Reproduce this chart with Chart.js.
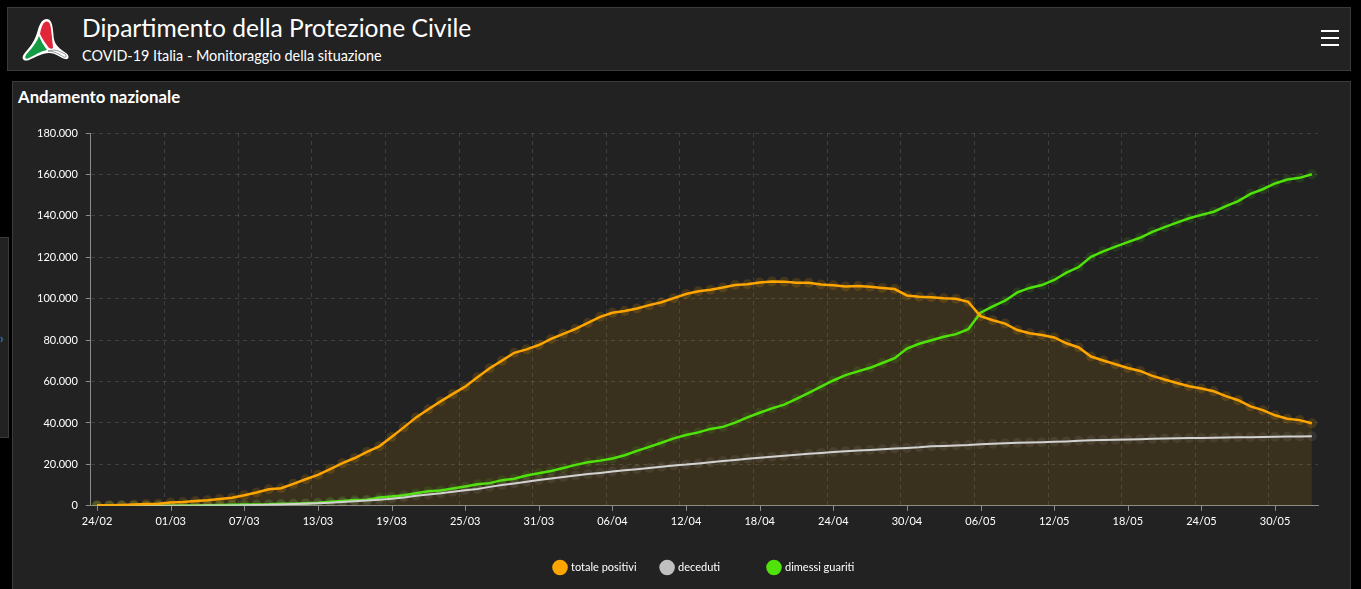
<!DOCTYPE html>
<html lang="it">
<head>
<meta charset="utf-8">
<title>Andamento nazionale</title>
<script src="https://cdn.jsdelivr.net/npm/chart.js@4.4.1/dist/chart.umd.min.js"></script>
<style>
  html, body { margin: 0; padding: 0; background: #000; width: 1361px; height: 589px; overflow: hidden; font-family: "Lato", "Noto Sans", sans-serif; color: #fff; }
  .header { position: absolute; left: 7px; top: 7px; width: 1342px; height: 62px; background: #222; border: 1px solid #3b3b3b; }
  .logo { position: absolute; left: 12px; top: 9px; }
  .title { position: absolute; left: 74px; top: 5px; font-size: 24.6px; white-space: nowrap; }
  .subtitle { position: absolute; left: 74px; top: 39px; font-size: 14.4px; white-space: nowrap; }
  .menu { position: absolute; left: 1313px; top: 22px; width: 18px; }
  .menu div { height: 2px; background: #fff; margin-bottom: 5px; }
  .panel { position: absolute; left: 12px; top: 81px; width: 1337px; height: 520px; background: #222; border: 1px solid #3b3b3b; }
  .panel h2 { position: absolute; left: 5px; top: 4px; margin: 0; font-size: 16.8px; font-weight: 700; white-space: nowrap; }
  .sidetab { position: absolute; left: -1px; top: 237px; width: 8px; height: 199px; background: #222; border: 1px solid #3b3b3b; }
  .sidetab span { position: absolute; left: 0px; top: 92px; color: #2e8ee6; font-size: 13px; }
  .chartbox { position: absolute; left: 13px; top: 110px; width: 1336px; height: 479px; }
</style>
</head>
<body>
<div class="header">
  <svg class="logo" width="50" height="46" viewBox="0 0 50 46">
    <path d="M27 2 C21 2 19 9 17 16 C14 26 8 32 4 37 C1 41 3 45 9 43 C16 40 22 36 29 36 C36 36 41 41 45 42 C49 43 50 39 46 36 C40 32 35 28 34 22 C33 14 33 2 27 2 Z" fill="#fff"/>
    <path d="M27 4.5 C23 4.5 21 11 20 17 C22 21 25 26 29 31 C31 32 32 32 33 31 C33 27 32 24 32 20 C31 13 31 4.5 27 4.5 Z" fill="#e2263a"/>
    <path d="M19 19 C16 27 10 33 6 38 C4 41 6 43 9 41 C15 38 21 34 27 33 C24 29 21 24 19 19 Z" fill="#169b45"/>
    <path d="M28 34 C35 34 40 38 44 40 C46 41 47 39 45 37 C41 35 37 33 34 33 Z" fill="#fff" stroke="#555" stroke-width="0.6"/>
  </svg>
  <div class="title">Dipartimento della Protezione Civile</div>
  <div class="subtitle">COVID-19 Italia - Monitoraggio della situazione</div>
  <div class="menu"><div></div><div></div><div></div></div>
</div>
<div class="sidetab"><span>&#x203A;</span></div>
<div class="panel"><h2>Andamento nazionale</h2></div>
<div class="chartbox"><canvas id="chart"></canvas></div>

<script>
// giorni (24/02 - 02/06)
const labels = [
    '24/02','25/02','26/02','27/02','28/02','29/02',
    '01/03','02/03','03/03','04/03','05/03','06/03','07/03','08/03','09/03','10/03',
    '11/03','12/03','13/03','14/03','15/03','16/03','17/03','18/03','19/03','20/03',
    '21/03','22/03','23/03','24/03','25/03','26/03','27/03','28/03','29/03','30/03','31/03',
    '01/04','02/04','03/04','04/04','05/04','06/04','07/04','08/04','09/04','10/04',
    '11/04','12/04','13/04','14/04','15/04','16/04','17/04','18/04','19/04','20/04',
    '21/04','22/04','23/04','24/04','25/04','26/04','27/04','28/04','29/04','30/04',
    '01/05','02/05','03/05','04/05','05/05','06/05','07/05','08/05','09/05','10/05',
    '11/05','12/05','13/05','14/05','15/05','16/05','17/05','18/05','19/05','20/05',
    '21/05','22/05','23/05','24/05','25/05','26/05','27/05','28/05','29/05','30/05','31/05',
    '01/06','02/06'
];

const xTickLabels = ['24/02','01/03','07/03','13/03','19/03','25/03','31/03','06/04','12/04',
    '18/04','24/04','30/04','06/05','12/05','18/05','24/05','30/05'];

const totalePositivi = [
    221,311,385,588,821,1049,
    1577,1835,2263,2706,3296,3916,5061,6387,7985,8514,
    10590,12839,14955,17750,20603,23073,26062,28710,33190,37860,
    42681,46638,50418,54030,57521,62013,66414,70065,73880,75528,77635,
    80572,83049,85388,88274,91246,93187,94067,95262,96877,98273,
    100269,102253,103616,104291,105418,106607,106962,107771,108257,108237,
    107709,107699,106848,106527,105847,106103,105813,105205,104657,101551,
    100943,100704,100179,99980,98467,91528,89624,87961,84842,83324,
    82488,81266,78457,76440,72070,70187,68351,66553,65129,62752,
    60960,59322,57752,56594,55300,52942,50966,47986,46175,43691,42075,
    41367,39893
];

const deceduti = [
    7,10,12,17,21,29,
    34,52,79,107,148,197,233,366,463,631,
    827,1016,1266,1441,1809,2158,2503,2978,3405,4032,
    4825,5476,6077,6820,7503,8165,9134,10023,10779,11591,12428,
    13155,13915,14681,15362,15887,16523,17127,17669,18279,18849,
    19468,19899,20465,21067,21645,22170,22745,23227,23660,24114,
    24648,25085,25549,25969,26384,26644,26977,27359,27682,27967,
    28236,28710,28884,29079,29315,29684,29958,30201,30395,30560,
    30739,30911,31106,31368,31610,31763,31908,32007,32169,32330,
    32486,32616,32735,32785,32877,32955,33072,33142,33229,33340,33415,
    33475,33530
];

const dimessiGuariti = [
    1,1,3,45,46,50,
    83,149,160,276,414,523,589,622,724,1004,
    1045,1258,1439,1966,2335,2749,2941,4025,4440,5129,
    6072,7024,7432,8326,9362,10361,10950,12384,13030,14620,15729,
    16847,18278,19758,20996,21815,22837,24392,26491,28470,30455,
    32534,34211,35435,37130,38092,40164,42727,44927,47055,48877,
    51600,54543,57576,60498,63120,64928,66624,68941,71252,75945,
    78249,79914,81654,82879,85231,93245,96276,99023,103031,105186,
    106587,109039,112541,115288,120205,122810,125176,127326,129401,132282,
    134560,136720,138840,140479,141981,144658,147101,150604,152844,155633,157507,
    158355,160092
];

const coloreAsse = '#8c8c8c';
const coloreGriglia = 'rgba(255,255,255,0.13)';

function formatta(v) {
    return String(v).replace(/\B(?=(\d{3})+(?!\d))/g, '.');
}

// tacche dell'asse x sotto le etichette (la griglia e' sfalsata di mezzo giorno)
const tacchePlugin = {
    id: 'tacche',
    afterDraw(chart) {
        const xs = chart.scales.x;
        const ctx = chart.ctx;
        ctx.save();
        ctx.strokeStyle = coloreAsse;
        ctx.lineWidth = 1;
        labels.forEach((l, i) => {
            if (xTickLabels.includes(l)) {
                const px = Math.round(xs.getPixelForValue(i)) + 0.5;
                ctx.beginPath();
                ctx.moveTo(px, xs.top);
                ctx.lineTo(px, xs.top + 5);
                ctx.stroke();
            }
        });
        ctx.restore();
    }
};

Chart.defaults.font.family = 'Lato, "Noto Sans", sans-serif';
Chart.defaults.font.size = 11;
Chart.defaults.color = '#ffffff';

const ctx = document.getElementById('chart').getContext('2d');
const chart = new Chart(ctx, {
    type: 'line',
    data: {
        labels: labels,
        datasets: [
            {
                label: 'totale positivi',
                data: totalePositivi,
                borderColor: '#ffa500',
                backgroundColor: 'rgba(255,165,0,0.11)',
                borderWidth: 2.5,
                fill: 'origin',
                pointRadius: 5,
                pointBorderWidth: 0,
                pointBackgroundColor: 'rgba(255,165,0,0.16)',
                legendColor: '#ffa500'
            },
            {
                label: 'deceduti\u2003\u2003\u2002\u2009',
                data: deceduti,
                borderColor: '#d4d4d4',
                backgroundColor: '#c0c0c0',
                borderWidth: 2,
                fill: false,
                pointRadius: 5,
                pointBorderWidth: 0,
                pointBackgroundColor: 'rgba(200,200,200,0.10)',
                legendColor: '#c0c0c0'
            },
            {
                label: 'dimessi guariti',
                data: dimessiGuariti,
                borderColor: '#4fe30b',
                backgroundColor: '#4fe30b',
                borderWidth: 2.5,
                fill: false,
                pointRadius: 5,
                pointBorderWidth: 0,
                pointBackgroundColor: 'rgba(79,227,11,0.12)',
                legendColor: '#4fe30b'
            }
        ]
    },
    options: {
        responsive: true,
        maintainAspectRatio: false,
        animation: false,
        events: [],
        elements: { line: { tension: 0 } },
        layout: { padding: { left: 16, right: 31, top: 23, bottom: 6 } },
        scales: {
            x: {
                offset: true,
                grid: {
                    offset: true,
                    drawTicks: false,
                    color: (c) => xTickLabels.includes(labels[c.index]) ? coloreGriglia : 'transparent'
                },
                border: { color: coloreAsse, dash: [4, 4] },
                ticks: {
                    autoSkip: false,
                    maxRotation: 0,
                    padding: 9,
                    color: '#ffffff',
                    callback: function (value, index) {
                        return xTickLabels.includes(labels[index]) ? labels[index] : '';
                    }
                }
            },
            y: {
                min: 0,
                max: 180000,
                grid: {
                    color: coloreGriglia,
                    tickColor: coloreAsse,
                    tickLength: 5
                },
                border: { color: coloreAsse, dash: [4, 4] },
                ticks: {
                    stepSize: 20000,
                    padding: 8,
                    color: '#ffffff',
                    callback: (v) => formatta(v)
                }
            }
        },
        plugins: {
            filler: { drawTime: 'beforeDatasetsDraw' },
            tooltip: { enabled: false },
            legend: {
                position: 'bottom',
                fullSize: false,
                labels: {
                    usePointStyle: true,
                    pointStyle: 'circle',
                    padding: 25,
                    color: '#ffffff',
                    generateLabels: (ch) => ch.data.datasets.map((d, i) => ({
                        text: d.label,
                        fillStyle: d.legendColor,
                        strokeStyle: d.legendColor,
                        lineWidth: 0,
                        pointStyle: 'circle',
                        fontColor: '#ffffff',
                        datasetIndex: i,
                        hidden: false
                    }))
                }
            }
        }
    },
    plugins: [tacchePlugin]
});
</script>
</body>
</html>
